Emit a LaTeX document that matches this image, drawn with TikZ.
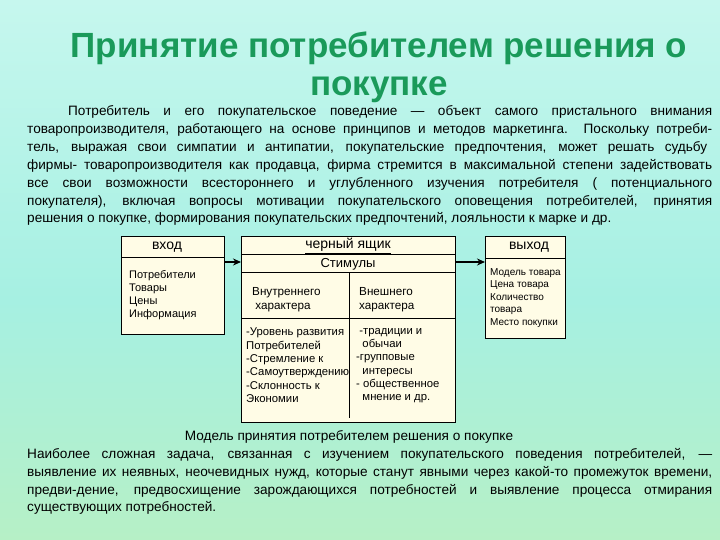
\documentclass[tikz,border=0pt]{standalone}
\usepackage{fontspec}
\setmainfont{Liberation Sans}
\usetikzlibrary{arrows.meta}
\definecolor{titleg}{HTML}{1A9A5A}
\definecolor{bgtop}{HTML}{C6F7EE}
\definecolor{bgmid}{HTML}{A6F0E2}
\definecolor{bgbot}{HTML}{B6F0C6}
\definecolor{boxfill}{HTML}{FFFCE6}
\tikzset{
  bline/.style={inner sep=0pt, anchor=west, font=\fontsize{13.6}{16}\selectfont},
  box/.style={draw=black, line width=0.8pt, fill=boxfill},
  hdr/.style={inner sep=0pt, font=\fontsize{14}{16}\selectfont},
  inner/.style={inner sep=0pt, anchor=north west, align=left, font=\fontsize{11}{13.2}\selectfont},
  arr/.style={-{Stealth[length=8pt,width=7pt]}, line width=1.6pt}
}
\newcommand{\jl}[2]{\makebox[#1][s]{#2}}
\begin{document}
\begin{tikzpicture}[x=1pt,y=-1pt]
\useasboundingbox (0,0) rectangle (720,540);
\shade[top color=bgtop, bottom color=bgmid] (0,0) rectangle (720,300);
\shade[top color=bgmid, bottom color=bgbot] (0,300) rectangle (720,540);
% title
\node[font=\bfseries\fontsize{35}{38}\selectfont, text=titleg, align=center] (title) at (379,67) {Принятие потребителем решения о\\покупке};
% paragraph
\node[bline] (p1) at (68,112) {\jl{644pt}{Потребитель и его покупательское поведение — объект самого пристального внимания}};
\node[bline] (p2) at (27,130) {\jl{685pt}{товаропроизводителя, работающего на основе принципов и методов маркетинга. Поскольку потреби-}};
\node[bline] (p3) at (27,148) {\jl{680pt}{тель, выражая свои симпатии и антипатии, покупательские предпочтения, может решать судьбу}};
\node[bline] (p4) at (27,166) {\jl{685pt}{фирмы- товаропроизводителя как продавца, фирма стремится в максимальной степени задействовать}};
\node[bline] (p5) at (27,184) {\jl{685pt}{все свои возможности всестороннего и углубленного изучения потребителя ( потенциального}};
\node[bline] (p6) at (27,202) {\jl{685pt}{покупателя), включая вопросы мотивации покупательского оповещения потребителей, принятия}};
\node[bline] (p7) at (27,219) {решения о покупке, формирования покупательских предпочтений, лояльности к марке и др.};
% boxes
\draw[box] (121,236) rectangle (224,334);
\draw[line width=0.8pt] (121,257) -- (224,257);
\node[hdr] (in) at (167,247) {вход};
\node[inner] (inl) at (129,270) {Потребители\\Товары\\Цены\\Информация};

\draw[box] (241,236) rectangle (455,422);
\draw[line width=0.8pt] (241,254) -- (455,254);
\draw[line width=0.8pt] (241,272) -- (455,272);
\draw[line width=0.8pt] (349,272) -- (349,418);
\draw[line width=0.8pt] (241,318) -- (455,318);
\node[hdr] (bb) at (348,246) {\underline{черный ящик}};
\node[hdr, font=\fontsize{13}{15}\selectfont] (st) at (348,264) {Стимулы};
\node[inner, font=\fontsize{11.7}{14}\selectfont] (vn) at (252,287) {Внутреннего\\\ характера};
\node[inner, font=\fontsize{11.7}{14}\selectfont] (ve) at (359,287) {Внешнего\\характера};
\node[inner, font=\fontsize{11.3}{13.3}\selectfont] (l1) at (246,328) {-Уровень развития\\Потребителей\\-Стремление к\\-Самоутверждению\\-Склонность к\\Экономии};
\node[inner, font=\fontsize{11.3}{13.3}\selectfont] (l2) at (356,328) {\ -традиции и\\\ \ обычаи\\-групповые\\\ \ интересы\\- общественное\\\ \ мнение и др.};

\draw[box] (485,236) rectangle (565,338);
\draw[line width=0.8pt] (485,258) -- (565,258);
\node[hdr] (out) at (529,247) {выход};
\node[inner, font=\fontsize{10}{12.6}\selectfont] (outl) at (490,268) {Модель товара\\Цена товара\\Количество\\товара\\Место покупки};

\coordinate (a1s) at (224,262); \coordinate (a1e) at (241,262);
\coordinate (a2s) at (455,262); \coordinate (a2e) at (485,262);
\draw[arr] (a1s) -- (a1e);
\draw[arr] (a2s) -- (a2e);

\node[inner sep=0pt, font=\fontsize{13.6}{16}\selectfont] (cap) at (349,437) {Модель принятия потребителем решения о покупке};
% bottom paragraph
\node[bline] (q1) at (27,455) {\jl{685pt}{Наиболее сложная задача, связанная с изучением покупательского поведения потребителей, —}};
\node[bline] (q2) at (27,473) {\jl{685pt}{выявление их неявных, неочевидных нужд, которые станут явными через какой-то промежуток времени,}};
\node[bline] (q3) at (27,491) {\jl{685pt}{предви-дение, предвосхищение зарождающихся потребностей и выявление процесса отмирания}};
\node[bline] (q4) at (27,508) {существующих потребностей.};
\end{tikzpicture}
\end{document}
